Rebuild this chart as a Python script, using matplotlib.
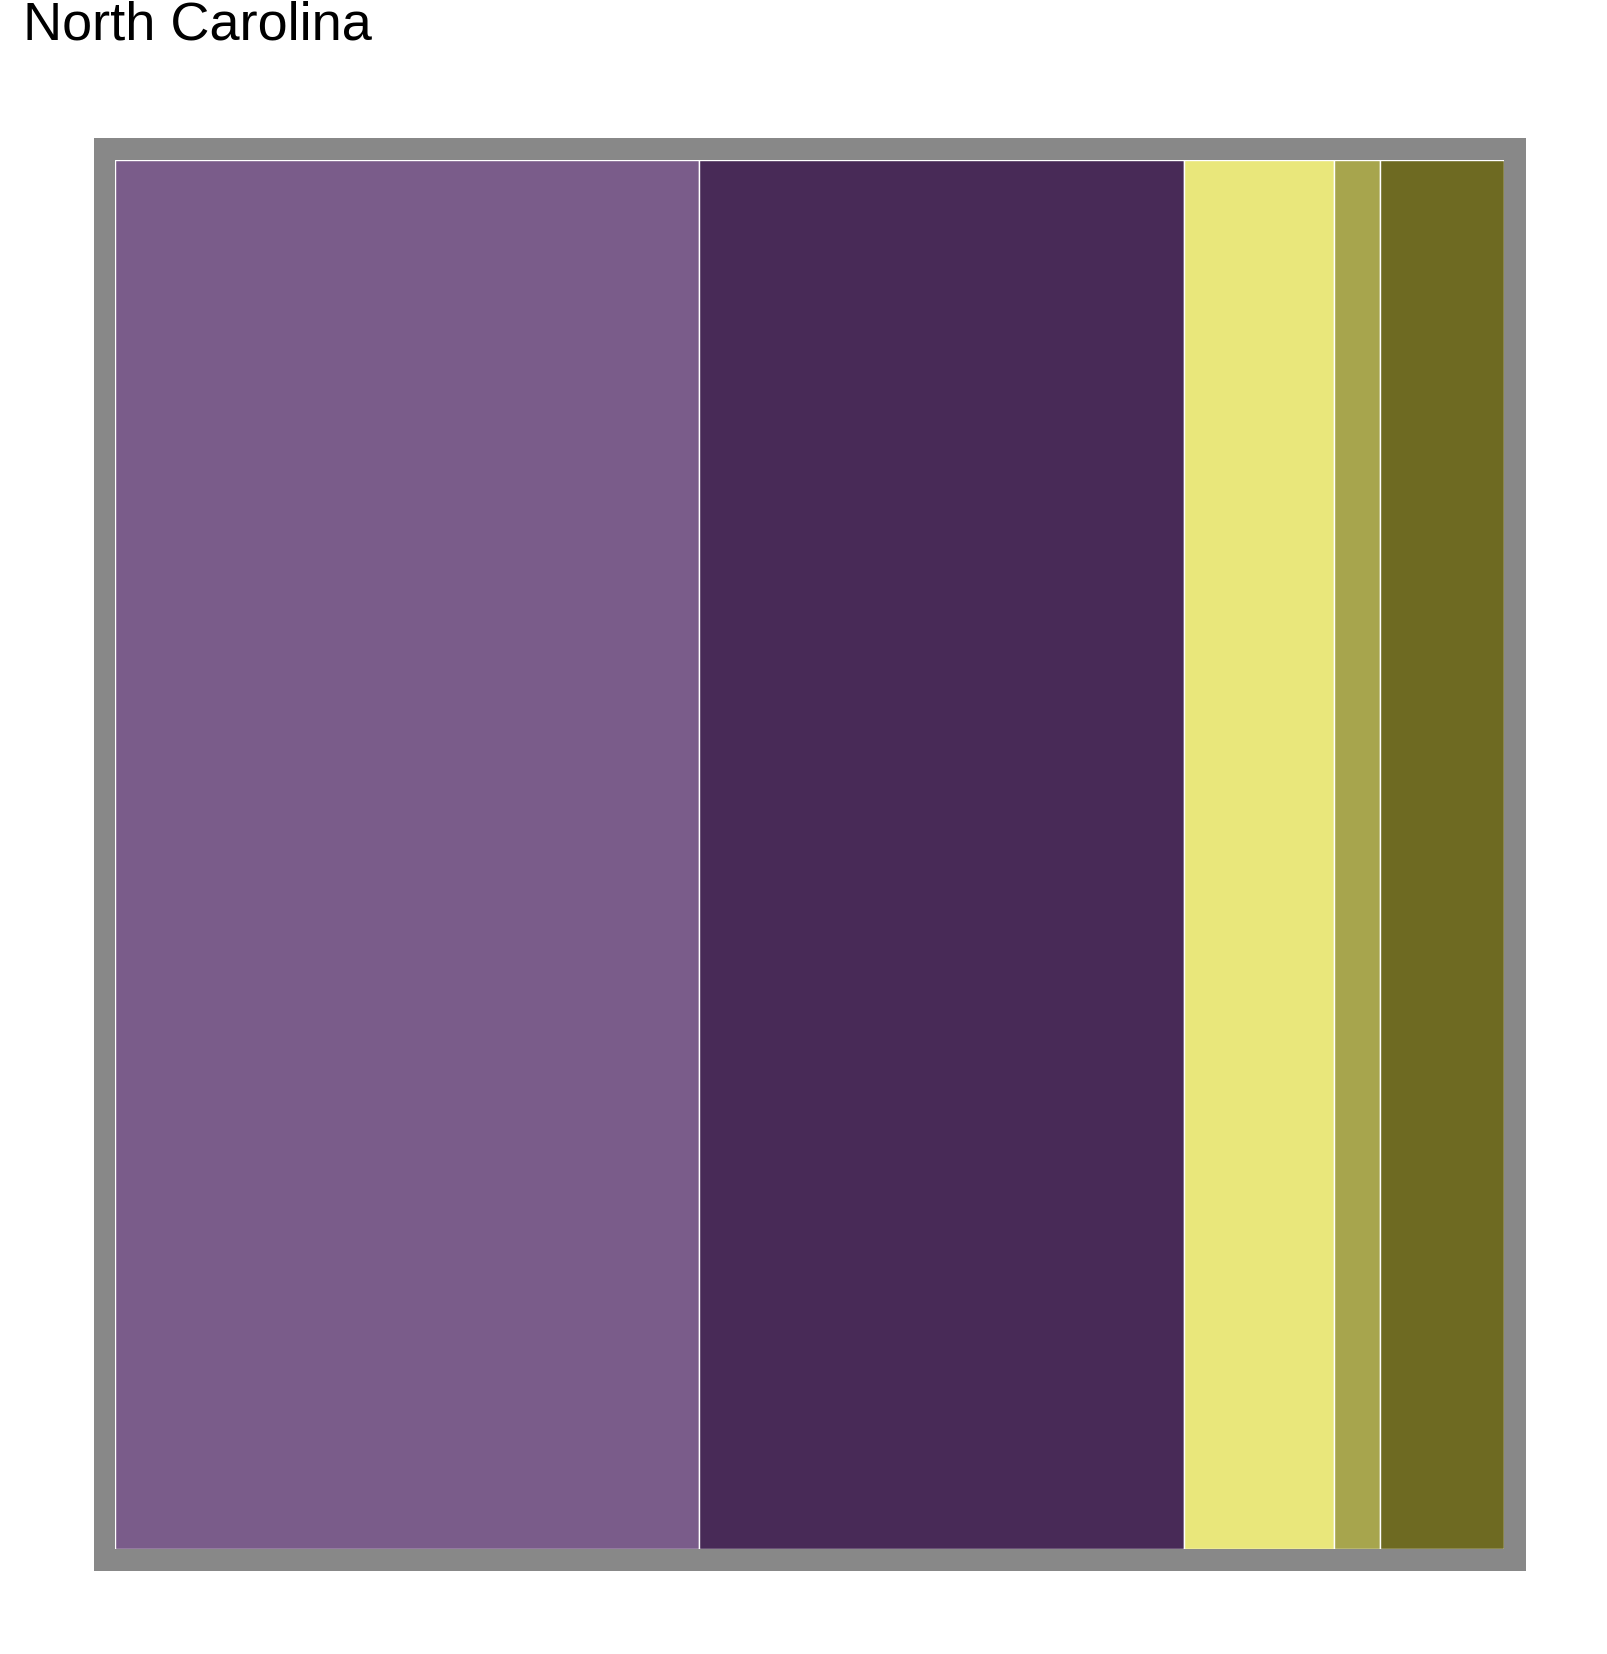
import matplotlib
matplotlib.use("Agg")
import matplotlib.pyplot as plt

title = "North Carolina"
categories = ["A", "B", "C", "D", "E"]
values = [42.0, 34.9, 10.8, 3.3, 8.9]
colors = ["#7a5c8a", "#482a57", "#e9e77b", "#a7a54d", "#6e6a22"]

W, H = 1608, 1654
fig = plt.figure(figsize=(W / 100, H / 100), dpi=100)
fig.patch.set_facecolor("white")

# gray frame (background axes)
bg = fig.add_axes([94 / W, 1 - 1571 / H, 1432 / W, 1433 / H], zorder=0)
bg.set_facecolor("#888888")
bg.set_xticks([])
bg.set_yticks([])
for s in bg.spines.values():
    s.set_visible(False)

ax = fig.add_axes([115 / W, 1 - 1549 / H, 1389 / W, 1389 / H], zorder=1)
lefts = []
acc = 0.0
for v in values:
    lefts.append(acc)
    acc += v
ax.bar(lefts, [1] * len(values), width=values, align="edge", color=colors,
       edgecolor="white", linewidth=1.0)
ax.set_xlim(0, acc)
ax.set_ylim(0, 1)
ax.set_axis_off()

fig.text(23 / W, 1 - 40 / H, title, fontsize=39, family=["Liberation Sans", "DejaVu Sans"],
         va="baseline", ha="left")

fig.savefig("out.png", dpi=100)
